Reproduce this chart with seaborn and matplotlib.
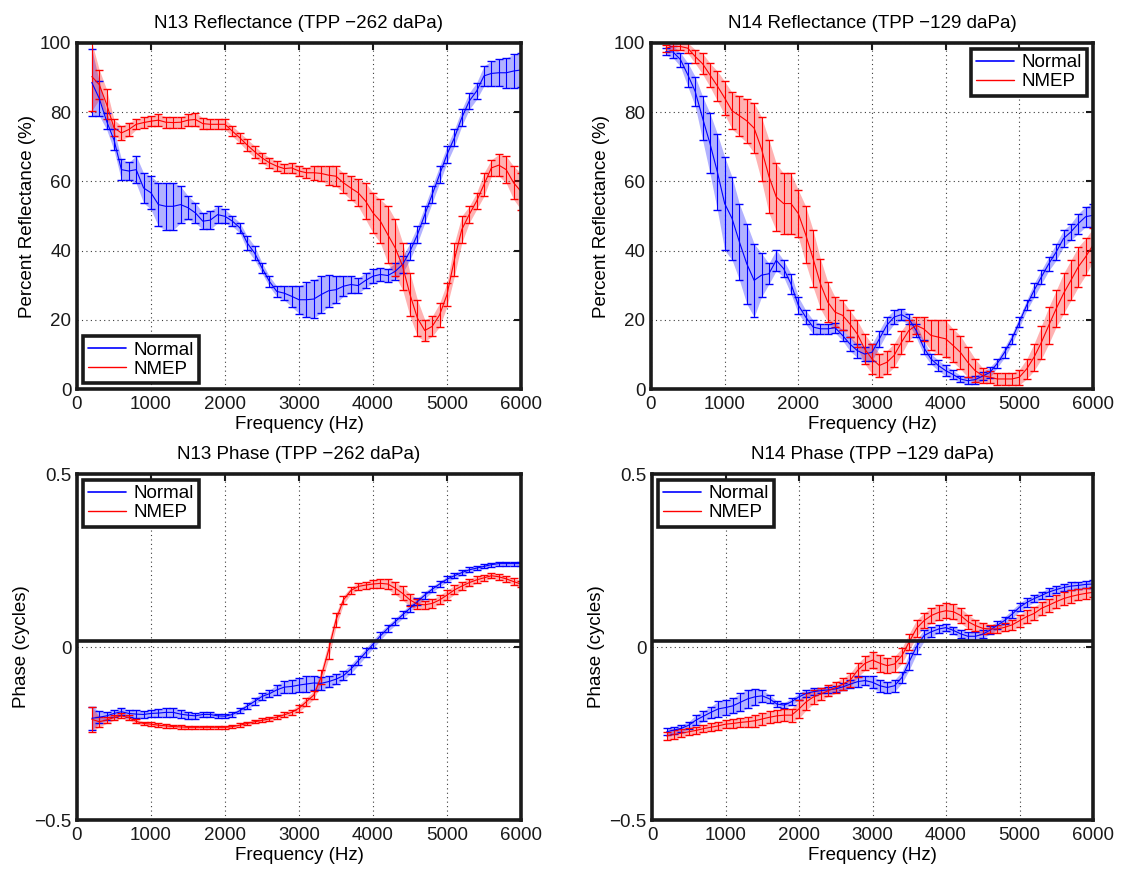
import numpy as np
import matplotlib
matplotlib.use("Agg")
import matplotlib.pyplot as plt
from matplotlib.lines import Line2D
import seaborn as sns

# ---------------- data ----------------
freq = list(range(200, 6001, 100))

# N13 reflectance (%)
n13_refl_normal = [88.6, 84, 77.4, 72, 63.4, 63, 63.4, 58.1, 56.7, 53.3, 52.8, 52.8, 53.3, 52.4, 50.9, 48.5, 48.8, 50.4, 49.9,
                   48.5, 46.6, 42.2, 39.3, 35.0, 31.1, 28.2, 27.7, 26.8, 25.8, 25.8, 26.0, 27.3, 28.4, 28.7, 29.7, 30.2, 29.9, 31.4, 32.6,
                   33.1, 32.8, 34.0, 36.0, 39.8, 44.6, 50.4, 56.2, 62.0, 67.8, 72.6, 78.4, 83.2, 86.1, 90.5, 91.2, 91.4, 91.4, 91.9, 92.2]
n13_refl_normal_err = [9.6, 5, 2.4, 3, 3, 2.5, 4, 4.3, 4.8, 6.3, 6.8, 6.8, 5.3, 3.4, 2.9, 2.4, 2.7, 2.4, 2,
                       1.5, 1.5, 2, 2, 1.5, 1.5, 1.5, 2, 3, 4, 5, 5.5, 5.3, 4.6, 3.9, 2.9, 2.4, 2.2, 2.2, 2,
                       2, 2, 2.4, 2.4, 2.4, 2.4, 2.4, 2.4, 2.4, 2.4, 2.4, 2.4, 2.4, 2.4, 2.9, 3.6, 3.9, 4.3, 4.8, 5]
n13_refl_nmep = [90.3, 88, 82.3, 75.5, 74, 75, 76.5, 77, 77.4, 77.7, 77.1, 77, 77.1, 77.7, 77.9, 76.7, 76.5, 76.5, 76.5,
                 74.5, 72.6, 70.5, 68.6, 66.8, 65.4, 64.4, 63.7, 63.9, 63, 62.5, 62.5, 62.3, 61.8, 61.5, 59.6, 58.1, 56.7, 54.3, 50.9,
                 48.5, 44.6, 40.8, 35.5, 27.3, 20.5, 16.9, 18.1, 21.4, 27.3, 37.4, 46.1, 50.4, 54.3, 59.1, 63.9, 64.7, 63.4, 59.6, 57.1]
n13_refl_nmep_err = [9.9, 4.3, 4.3, 2.4, 2, 2, 1.5, 1.5, 1.5, 1.7, 1.6, 1.5, 1.6, 1.7, 2, 1.7, 1.5, 1.5, 1.5,
                     1.5, 1.5, 1.7, 1.7, 1.5, 1.5, 1.5, 1.2, 1.5, 1.5, 1.5, 2, 2.2, 2.7, 2.9, 2.9, 3.4, 3.9, 5.3, 5.8,
                     6.3, 8.2, 8.2, 6.8, 6.3, 5.3, 3.1, 2.9, 3.4, 3.4, 4.8, 3.9, 2.4, 2.4, 3.4, 2.4, 3.1, 3.9, 4.8, 5.3]

# N14 reflectance (%)
n14_refl_normal = [97.5, 97.4, 95.2, 90.8, 86, 78.3, 71, 62.8, 53.6, 49.3, 42.5, 36.2, 31.4, 32.9, 33.3, 37.2, 34.8, 30.4, 24.2,
                   20.8, 17.9, 17.4, 17.4, 17.7, 15.5, 13, 11.1, 10.1, 10.6, 14.5, 18.4, 20.8, 21.5, 20.3, 16.9, 12.1, 8.7, 6.8, 5.3,
                   4.2, 2.9, 2.4, 2.7, 3.7, 4.8, 7.4, 10.6, 14.5, 19.3, 24.2, 28.5, 32.4, 36.2, 39.6, 43.5, 45.4, 47.8, 49.8, 50.2]
n14_refl_normal_err = [1, 1.7, 2, 3.4, 4.3, 6.3, 8.7, 11, 13.5, 12, 11, 11.6, 10.6, 6.3, 3, 3, 2.4, 2.9, 2.4,
                       2, 2, 1.5, 1.5, 1.5, 1.5, 2, 2, 2, 2.4, 2.4, 2.4, 2, 1.7, 1.5, 2, 2, 1.5, 1.5, 1.5,
                       1.2, 1, 1, 1.2, 1.2, 1.5, 1.2, 1.5, 1.5, 1.5, 1.5, 2, 2, 2, 2.4, 2.4, 2.4, 2.9, 2.9, 3.4]
n14_refl_nmep = [98.5, 99, 99, 98.5, 96.1, 94, 90.8, 87.6, 84.1, 80.4, 79, 77.5, 75.4, 69.4, 61.5, 55.5, 53.6, 53.6, 50.7,
                 44.6, 37.7, 30.4, 25.1, 22.2, 21.3, 18.8, 15.9, 11.6, 8.7, 6.8, 7.7, 9.7, 13.5, 16.9, 18.4, 17.4, 15.5, 15, 14.5,
                 12.6, 10.6, 7.7, 5.3, 3.9, 3.4, 2.9, 2.9, 2.9, 3.4, 5.8, 9.2, 13.5, 18.4, 23.2, 27.6, 31.4, 35.3, 38.2, 41.6]
n14_refl_nmep_err = [1, 1, 1, 1.5, 2, 3, 3.4, 4.3, 4.8, 5.3, 5.8, 6.3, 7.2, 9.2, 10.6, 9.7, 8.7, 8.7, 6.8,
                     8.2, 8.2, 7.2, 5.8, 4.3, 4.3, 3.9, 3.9, 4.3, 4.3, 3.4, 3.4, 3.4, 3.4, 2.9, 2.4, 3.4, 4.3, 4.8, 5.3,
                     4.8, 4.8, 4.3, 3.4, 2.2, 1.7, 1.7, 1.7, 1.7, 2.2, 2.9, 3.9, 4.8, 5.3, 5.3, 5.8, 5.8, 5.8, 5.3, 4.8]

# N13 phase (cycles)
n13_phase_normal = [-0.206, -0.203, -0.199, -0.192, -0.187, -0.192, -0.194, -0.195, -0.192, -0.191, -0.189, -0.189, -0.194, -0.197, -0.199, -0.195, -0.195, -0.199, -0.2,
                    -0.195, -0.184, -0.171, -0.157, -0.143, -0.135, -0.124, -0.116, -0.114, -0.110, -0.107, -0.104, -0.105, -0.100, -0.093, -0.083, -0.064, -0.040, -0.016, 0.008,
                    0.032, 0.054, 0.073, 0.093, 0.112, 0.131, 0.150, 0.167, 0.182, 0.196, 0.206, 0.215, 0.223, 0.228, 0.233, 0.238, 0.241, 0.241, 0.241, 0.241]
n13_phase_normal_err = [0.034, 0.017, 0.012, 0.01, 0.01, 0.01, 0.012, 0.011, 0.01, 0.011, 0.012, 0.013, 0.012, 0.01, 0.008, 0.008, 0.008, 0.006, 0.006,
                        0.006, 0.007, 0.009, 0.01, 0.01, 0.01, 0.015, 0.017, 0.02, 0.02, 0.022, 0.02, 0.019, 0.017, 0.015, 0.013, 0.013, 0.013, 0.012, 0.012,
                        0.012, 0.01, 0.01, 0.01, 0.01, 0.01, 0.01, 0.008, 0.008, 0.008, 0.008, 0.007, 0.007, 0.006, 0.006, 0.006, 0.006, 0.006, 0.006, 0.006]
n13_phase_nmep = [-0.209, -0.216, -0.211, -0.204, -0.199, -0.204, -0.215, -0.221, -0.223, -0.226, -0.228, -0.230, -0.231, -0.232, -0.232, -0.232, -0.232, -0.232, -0.232,
                  -0.230, -0.226, -0.221, -0.216, -0.212, -0.208, -0.203, -0.196, -0.189, -0.177, -0.158, -0.139, -0.086, -0.009, 0.078, 0.136, 0.163, 0.175, 0.179, 0.182,
                  0.184, 0.182, 0.170, 0.155, 0.136, 0.124, 0.122, 0.126, 0.136, 0.150, 0.165, 0.176, 0.186, 0.194, 0.200, 0.206, 0.203, 0.197, 0.189, 0.182]
n13_phase_nmep_err = [0.036, 0.015, 0.01, 0.008, 0.007, 0.007, 0.006, 0.005, 0.005, 0.005, 0.005, 0.004, 0.005, 0.004, 0.004, 0.004, 0.004, 0.004, 0.004,
                      0.004, 0.005, 0.005, 0.005, 0.006, 0.006, 0.006, 0.007, 0.007, 0.01, 0.012, 0.012, 0.02, 0.025, 0.02, 0.012, 0.01, 0.01, 0.01, 0.012,
                      0.013, 0.015, 0.018, 0.02, 0.018, 0.015, 0.012, 0.012, 0.013, 0.014, 0.013, 0.012, 0.01, 0.01, 0.008, 0.008, 0.008, 0.008, 0.009, 0.01]

# N14 phase (cycles)
n14_phase_normal = [-0.245, -0.240, -0.235, -0.226, -0.211, -0.200, -0.189, -0.179, -0.175, -0.170, -0.160, -0.150, -0.144, -0.141, -0.150, -0.165, -0.168, -0.158, -0.144,
                    -0.134, -0.129, -0.126, -0.124, -0.121, -0.115, -0.107, -0.100, -0.097, -0.102, -0.112, -0.117, -0.112, -0.088, -0.042, 0.001, 0.033, 0.044, 0.052, 0.056,
                    0.048, 0.038, 0.031, 0.031, 0.037, 0.049, 0.063, 0.077, 0.095, 0.115, 0.129, 0.140, 0.149, 0.159, 0.166, 0.172, 0.176, 0.178, 0.181, 0.182]
n14_phase_normal_err = [0.01, 0.01, 0.01, 0.01, 0.015, 0.015, 0.017, 0.022, 0.022, 0.022, 0.026, 0.027, 0.024, 0.017, 0.012, 0.008, 0.007, 0.01, 0.01,
                        0.011, 0.01, 0.008, 0.008, 0.008, 0.01, 0.012, 0.015, 0.013, 0.017, 0.017, 0.017, 0.017, 0.017, 0.024, 0.02, 0.017, 0.014, 0.012, 0.011,
                        0.011, 0.012, 0.011, 0.011, 0.011, 0.012, 0.011, 0.011, 0.012, 0.012, 0.012, 0.011, 0.011, 0.011, 0.011, 0.011, 0.011, 0.011, 0.011, 0.012]
n14_phase_nmep = [-0.257, -0.253, -0.249, -0.245, -0.241, -0.236, -0.232, -0.228, -0.223, -0.221, -0.218, -0.216, -0.213, -0.208, -0.203, -0.199, -0.197, -0.197, -0.179,
                  -0.158, -0.144, -0.136, -0.126, -0.117, -0.107, -0.095, -0.067, -0.047, -0.038, -0.047, -0.054, -0.049, -0.025, 0.015, 0.054, 0.076, 0.091, 0.100, 0.105,
                  0.102, 0.091, 0.073, 0.062, 0.054, 0.052, 0.052, 0.057, 0.064, 0.076, 0.088, 0.097, 0.112, 0.121, 0.131, 0.140, 0.146, 0.151, 0.155, 0.158]
n14_phase_nmep_err = [0.012, 0.012, 0.011, 0.01, 0.011, 0.011, 0.012, 0.012, 0.012, 0.013, 0.012, 0.015, 0.017, 0.017, 0.017, 0.017, 0.017, 0.019, 0.027,
                      0.024, 0.02, 0.017, 0.017, 0.017, 0.017, 0.02, 0.02, 0.02, 0.024, 0.024, 0.022, 0.022, 0.022, 0.024, 0.024, 0.022, 0.022, 0.022, 0.022,
                      0.022, 0.022, 0.02, 0.017, 0.015, 0.012, 0.012, 0.012, 0.015, 0.017, 0.019, 0.019, 0.019, 0.019, 0.019, 0.018, 0.018, 0.016, 0.015, 0.014]

phase_ref_line = 0.016

titles = ["N13 Reflectance (TPP \u2212262 daPa)", "N14 Reflectance (TPP \u2212129 daPa)",
          "N13 Phase (TPP \u2212262 daPa)", "N14 Phase (TPP \u2212129 daPa)"]
series_labels = ["Normal", "NMEP"]
x_ticks = [0, 1000, 2000, 3000, 4000, 5000, 6000]
refl_ticks = [0, 20, 40, 60, 80, 100]
phase_ticks = [-0.5, 0, 0.5]
phase_ticklabels = ["\u22120.5", "0", "0.5"]

# ---------------- style ----------------
sns.set_theme(style="white")
plt.rcParams['font.family'] = ['Liberation Sans', 'DejaVu Sans']
plt.rcParams['axes.unicode_minus'] = True
for k in ['text.color', 'axes.labelcolor', 'xtick.color', 'ytick.color', 'axes.edgecolor']:
    plt.rcParams[k] = 'black'
FS = 13.5
BLUE = (0, 0, 1)
RED = (1, 0, 0)

fig = plt.figure(figsize=(11.22, 8.71), dpi=100)
W, H = 1122, 871
boxes = [(77, 43, 521, 389), (651, 43, 1093, 389), (77, 474, 521, 820), (652, 474, 1093, 820)]
axes = []
for (l, t, r, b) in boxes:
    axes.append(fig.add_axes([l / W, 1 - b / H, (r - l) / W, (b - t) / H]))

panels = [
    (n13_refl_normal, n13_refl_normal_err, n13_refl_nmep, n13_refl_nmep_err, "refl", "lower left"),
    (n14_refl_normal, n14_refl_normal_err, n14_refl_nmep, n14_refl_nmep_err, "refl", "upper right"),
    (n13_phase_normal, n13_phase_normal_err, n13_phase_nmep, n13_phase_nmep_err, "phase", "upper left"),
    (n14_phase_normal, n14_phase_normal_err, n14_phase_nmep, n14_phase_nmep_err, "phase", "upper left"),
]

for ax, title, (m1, e1, m2, e2, kind, loc) in zip(axes, titles, panels):
    x = np.array(freq)
    for m, e, c in [(m1, e1, BLUE), (m2, e2, RED)]:
        m = np.array(m); e = np.array(e)
        ax.fill_between(x, m - e, m + e, color=c, alpha=0.3, lw=0, zorder=2)
        ax.errorbar(x, m, yerr=e, fmt='none', ecolor=c, elinewidth=0.8, capsize=3.2,
                    capthick=1.0, zorder=3)
        sns.lineplot(x=x, y=m, ax=ax, color=c, lw=0.8, legend=False, zorder=4)

    ax.set_xlim(0, 6000)
    ax.set_xticks(x_ticks)
    if kind == "refl":
        ax.set_ylim(0, 100)
        ax.set_yticks(refl_ticks)
        ax.set_ylabel("Percent Reflectance (%)", fontsize=FS, labelpad=3)
    else:
        ax.set_ylim(-0.5, 0.5)
        ax.set_yticks(phase_ticks)
        ax.set_yticklabels(phase_ticklabels)
        ax.axhline(phase_ref_line, color='k', lw=2.6, zorder=5)
        ax.set_ylabel("Phase (cycles)", fontsize=FS, labelpad=3)
    ax.set_xlabel("Frequency (Hz)", fontsize=FS, labelpad=2)
    ax.set_title(title, fontsize=FS, pad=11)

    ax.grid(True, color='k', linestyle=(0, (1, 3)), linewidth=0.8, alpha=0.85)
    ax.set_axisbelow(True)
    for sp in ax.spines.values():
        sp.set_visible(True)
        sp.set_color('k')
        sp.set_linewidth(2.6)
        sp.set_zorder(6)
    ax.tick_params(direction='in', top=True, right=True, length=5, width=1.5,
                   labelsize=FS, colors='k')
    ax.tick_params(axis='x', pad=5)
    ax.tick_params(axis='y', pad=4)

    handles = [Line2D([0], [0], color=BLUE, lw=1.2), Line2D([0], [0], color=RED, lw=1.0)]
    leg = ax.legend(handles, series_labels, loc=loc, fontsize=FS, frameon=True, fancybox=False,
                    borderpad=0.3, labelspacing=0.1, handlelength=2.0, handletextpad=0.4,
                    borderaxespad=0.3, framealpha=1)
    leg.get_frame().set_edgecolor('k')
    leg.get_frame().set_linewidth(2.6)
    leg.set_zorder(10)

fig.savefig("out.png", dpi=100)
